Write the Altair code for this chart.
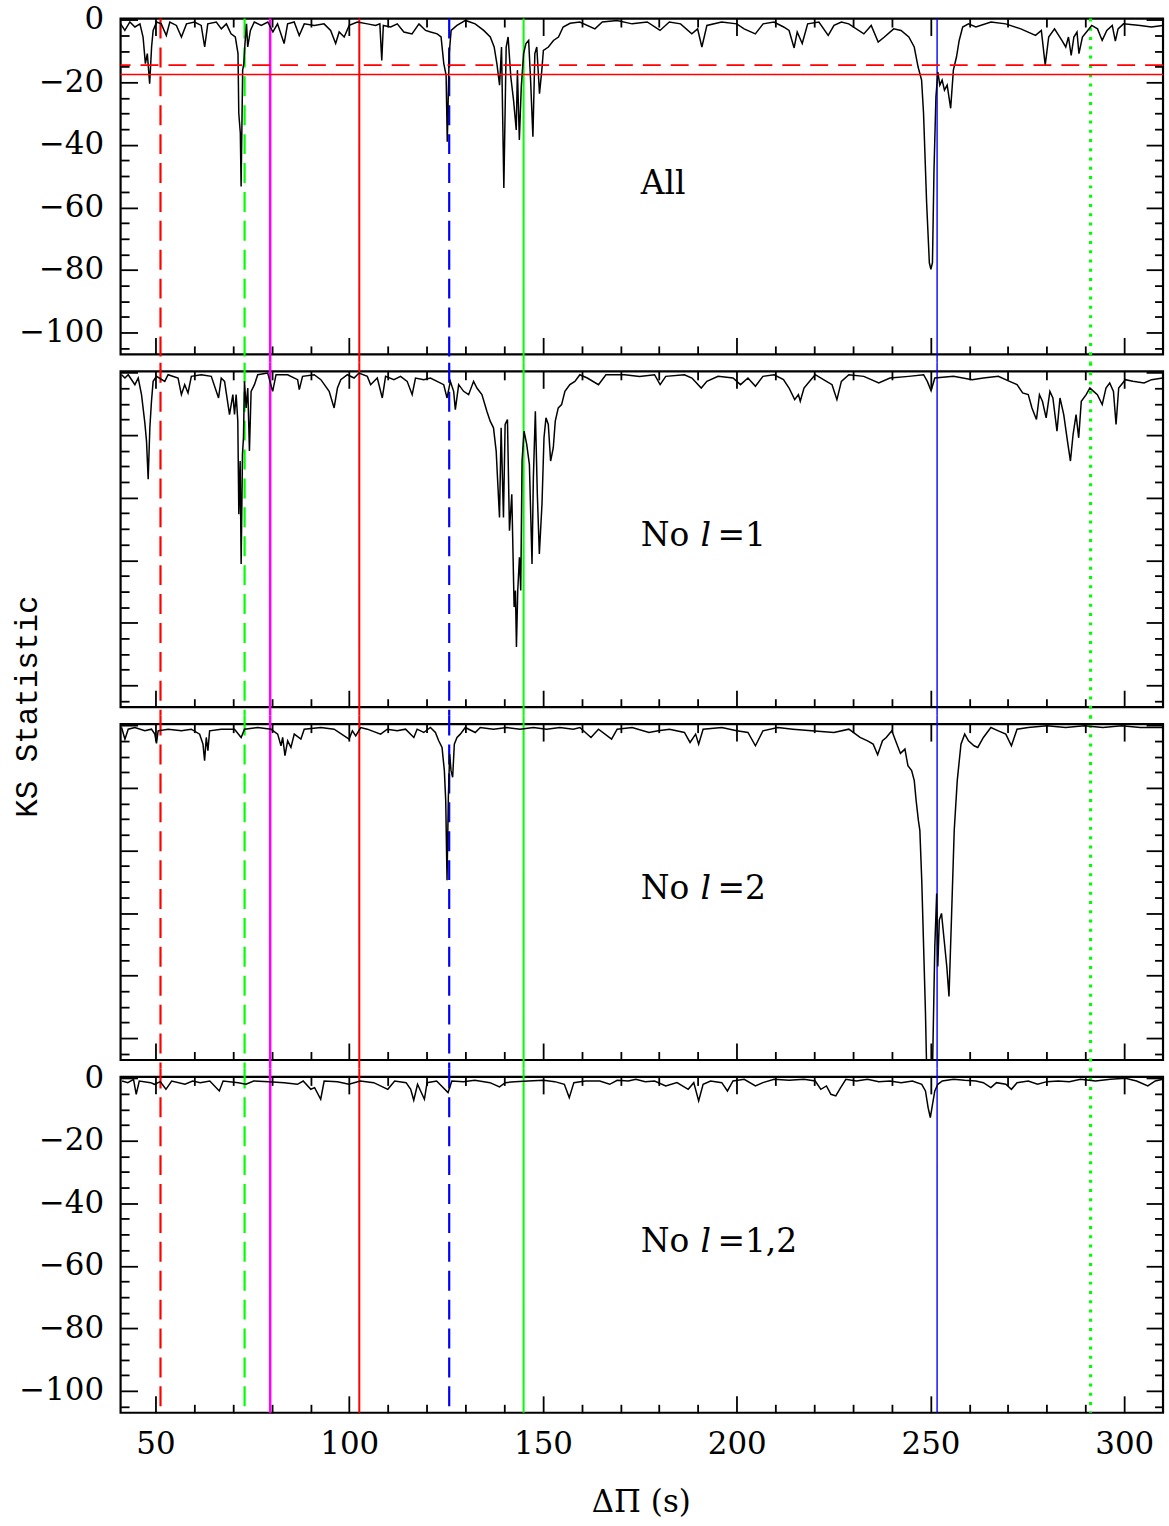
import altair as alt
import pandas as pd

# ---------------- data ----------------
X_DOMAIN = [41, 310]
Y_DOMAIN = [-107, 0.4]

X_MAJOR = [50, 100, 150, 200, 250, 300]
X_MINOR = [60, 70, 80, 90, 110, 120, 130, 140, 160, 170, 180, 190, 210, 220, 230, 240,
           260, 270, 280, 290]
Y_MAJOR = [0, -20, -40, -60, -80, -100]
Y_MINOR = [-5, -10, -15, -25, -30, -35, -45, -50, -55, -65, -70, -75, -85, -90, -95, -105]

# Panel 1: "All"
P1_X = [41.0, 42.1, 43.4, 44.7, 46.0, 46.8, 47.4, 47.9, 48.5, 49.0, 49.4, 50.3, 51.5, 52.8, 53.7,
        55.4, 56.7, 58.0, 60.1, 61.8, 62.7, 63.5, 65.7, 67.0, 68.3, 69.5, 70.6, 71.3, 71.5, 71.9,
        72.1, 72.5, 72.8, 73.1, 73.5, 73.8, 74.5, 75.5, 77.3, 79.0, 80.3, 81.5, 83.2, 84.1, 85.8,
        87.1, 88.4, 91.0, 93.5, 95.2, 96.5, 97.4, 98.7, 100.0, 102.1, 104.7, 106.8, 107.9, 108.4,
        108.8, 110.7, 112.4, 114.1, 116.2, 118.0, 119.7, 121.0, 122.7, 123.7, 124.4, 125.0, 125.3,
        125.8, 126.3, 127.8, 130.0, 132.5, 134.7, 136.4, 137.4, 138.1, 138.8, 139.3, 139.9, 140.5,
        141.0, 141.7, 142.4, 143.1, 143.4, 143.9, 144.4, 145.0, 145.6, 146.3, 146.8, 147.4, 147.9,
        148.4, 149.1, 149.7, 150.1, 151.4, 152.7, 154.0, 155.2, 157.0,
        159.5, 163.4, 165.3, 169.1, 173.0, 176.9, 180.2, 182.6, 185.5, 188.4, 189.9, 191.0, 192.3,
        196.1, 200.0, 201.9, 204.8, 206.8, 209.6, 212.1, 213.5, 214.8, 215.6, 216.9, 218.3, 221.2,
        223.6, 225.1, 227.0, 228.9, 232.8, 234.7, 236.5, 238.1, 240.5, 242.4, 244.4, 245.8, 246.8,
        247.7, 248.2, 249.0, 249.7, 250.1, 250.5, 250.9, 251.4, 251.9, 252.4, 253.0, 253.6, 254.3,
        255.2, 255.9, 256.7, 257.4, 258.3, 259.8, 261.7, 265.6, 269.4, 273.3, 277.1, 278.6, 279.6,
        280.5, 282.0, 283.9, 284.9, 285.6, 286.3, 287.0, 287.8, 288.3, 289.2, 291.6, 293.1, 294.3,
        295.5, 296.9, 297.7, 298.4, 299.8, 304.1, 307.0, 309.9]
P1_Y = [-1.3, -3.4, -0.7, -2.3, -1.3, -5.5, -14.0, -10.8, -20.4, -8.7, -3.4, -0.7, -1.3, -5.0, -0.7,
        -1.8, -5.5, -1.3, -0.7, -1.8, -8.7, -1.3, -0.7, -2.9, -1.3, -4.5, -5.5, -10.8, -29.9, -36.3,
        -53.3, -16.1, -14.0, -7.6, -1.3, -8.7, -3.4, -0.7, -1.8, -0.7, -3.9, -1.3, -7.6, -1.3, -0.7,
        -5.0, -1.3, -1.8, -1.3, -3.4, -7.6, -3.9, -5.5, -1.8, -0.7, -1.3, -1.8, -1.3, -13.0,
        -1.8, -2.3, -1.3, -3.9, -4.5, -1.3, -3.4, -3.9, -4.5, -5.5, -14.0, -17.7, -39.0,
        -10.8, -3.4, -1.8, -0.2, -1.3, -3.4, -5.5, -8.7, -14.0, -20.9, -8.7, -53.8, -8.7,
        -5.5, -18.3, -25.7, -35.2, -16.1, -38.4, -21.4, -10.8, -7.6, -6.6, -19.3, -37.4, -10.8,
        -8.7, -23.6, -16.1, -9.8, -8.7, -6.6, -5.5, -2.3, -1.1,
        -0.7, -2.9, -0.7, -0.2, -1.3, -0.7, -3.4, -0.7, -1.3, -4.5, -2.9, -8.7, -1.8,
        -0.7, -1.3, -2.9, -4.5, -1.3, -0.7, -2.3, -3.4, -9.0, -3.9, -7.6, -1.3, -0.7,
        -5.0, -1.8, -0.7, -1.3, -4.5, -1.8, -7.1, -5.5, -2.9, -3.4, -5.5, -8.7, -15.1,
        -19.3, -29.9, -58.6, -77.7, -79.8, -77.7, -48.0, -24.6, -16.7, -20.9, -19.3, -22.5, -20.9,
        -28.3, -16.1, -11.9, -6.6, -2.3, -1.3, -2.3, -0.7, -1.3, -2.9, -5.0, -3.4, -14.5,
        -5.5, -2.9, -6.6, -8.7, -5.5, -11.4, -5.5, -3.9, -10.8, -5.5, -1.8, -2.9, -6.6,
        -3.4, -1.8, -6.8, -2.9, -1.3, -1.8, -2.3, -1.8]

# Panel 2: "No l=1"
P2_X = [41.26, 42.12, 42.97, 44.69, 45.55, 46.40, 47.26, 47.69, 48.12, 48.55, 48.97, 49.40, 50.26,
        52.40, 53.26, 55.83, 56.69, 57.54, 58.40, 59.26, 61.83, 64.40, 66.28, 66.97, 67.83, 69.11,
        69.97, 70.40, 70.82, 71.25, 71.51, 71.85, 72.11, 72.45, 72.71, 72.97, 73.40, 73.82, 74.25,
        74.68, 75.54, 76.39, 78.96, 80.25, 81.11, 84.11, 86.68, 87.11, 87.96, 90.96, 92.68, 94.82,
        96.10, 96.96, 97.82, 99.53, 101.25, 102.53, 104.67, 105.53, 107.24, 108.53, 109.38, 111.53,
        113.24, 114.95, 116.24, 117.10, 119.24, 120.95, 122.67, 124.38, 125.24, 126.09, 126.95,
        127.38, 128.24, 129.52, 130.81, 132.09, 132.95, 134.24, 135.52, 136.38, 137.23, 137.92,
        138.26, 138.78, 139.20, 139.80, 140.23, 140.83, 141.35, 141.95, 142.55, 142.89, 143.15,
        143.49, 143.92, 144.26, 144.60, 145.12, 145.80, 146.49, 147.17, 147.52, 148.03, 148.54,
        149.06, 149.74, 150.26, 150.77, 151.37, 151.97, 152.66, 153.17, 153.94, 154.80, 155.66,
        156.94, 158.23, 159.51,
        161.43, 164.32, 166.25, 171.07, 174.93, 178.79, 180.23, 181.68, 186.50, 188.43, 190.84,
        192.29, 195.18, 199.04, 200.97, 202.89, 204.82, 206.75, 209.64, 212.06, 213.50, 214.95,
        215.91, 216.39, 217.36, 218.81, 220.25, 223.15, 224.59, 225.85, 227.00, 228.93, 232.79,
        236.65, 239.54, 244.36, 248.22, 249.18, 250.15, 251.11, 255.93, 260.75, 263.65, 267.50,
        270.40, 272.33, 273.77, 275.22, 276.18, 277.34, 278.11, 278.88, 279.84, 280.81, 281.58,
        282.64, 283.41, 284.38, 285.34, 286.11, 286.79, 287.56, 288.24, 288.91, 290.17, 291.13,
        292.09, 293.06, 294.31, 295.28, 296.24, 297.21, 297.88, 298.56, 300.29, 302.22, 305.11,
        307.04, 309.93]
P2_Y = [-0.68, -1.74, -0.68, -3.86, -1.74, -7.05, -16.07, -21.91, -34.1, -17.73, -9.17, -2.80, -1.21,
        -2.80, -0.68, -1.74, -7.05, -3.86, -6.52, -1.21, -0.68, -1.21, -8.11, -1.74, -2.80, -13.42,
        -7.05, -13.42, -7.05, -15.54, -45.26, -28.28, -61.19, -26.16, -20.85, -2.80, -11.30, -4.93,
        -25.09, -5.99, -3.86, -0.68, -0.15, -5.99, -0.68, -0.68, -2.27, -5.46, -1.21, -0.68, -2.27,
        -5.99, -11.30, -4.93, -2.27, -0.68, -1.74, -0.15, -1.21, -3.86, -1.74, -8.11, -1.21, -2.27,
        -1.21, -2.80, -7.05, -1.74, -2.27, -1.74, -2.80, -3.86, -8.11, -2.80, -5.99,
        -11.83, -3.86, -5.99, -7.05, -2.80, -4.93, -7.05, -12.36, -15.54, -17.66, -25.09,
        -33.59, -46.33, -17.66, -46.33, -16.60, -15.01, -50.58, -38.89, -74.99, -69.68, -87.73,
        -69.68, -59.06, -69.68, -28.28, -18.73, -22.97, -29.34, -61.19, -33.59, -12.36, -38.89,
        -58.0, -42.08, -20.85, -14.48, -16.60, -28.28, -24.03, -15.54, -11.30, -10.23, -5.99,
        -3.86, -2.80, -0.68,
        -1.74, -3.86, -0.68, -0.68, -1.21, -0.68, -3.86, -1.21, -0.68, -1.74, -4.93,
        -2.80, -1.21, -1.74, -3.86, -1.74, -4.39, -1.21, -0.68, -2.27, -4.93, -8.64,
        -7.05, -9.17, -4.93, -2.80, -0.68, -2.80, -3.86, -8.64, -2.80, -0.68, -1.21,
        -3.33, -1.74, -1.21, -0.68, -2.80, -5.78, -1.74, -1.21, -2.27, -1.74, -1.21,
        -2.80, -3.86, -6.52, -7.05, -11.30, -15.01, -7.05, -9.17, -14.48, -5.99, -8.11,
        -18.73, -8.11, -13.42, -21.91, -28.28, -19.79, -13.42, -20.85, -9.17, -7.05, -4.93,
        -5.99, -7.05, -10.23, -4.93, -3.33, -5.99, -16.60, -4.93, -2.27, -2.80, -3.33,
        -2.27, -1.74]

# Panel 3: "No l=2"
P3_X = [41.26, 42.12, 42.97, 44.69, 47.26, 48.97, 49.83, 50.26, 50.69, 53.26, 56.69, 59.26, 61.40,
        62.26, 62.68, 63.11, 63.54, 63.97, 66.97, 70.40, 72.11, 72.97, 76.39, 79.82, 81.54, 82.39,
        82.82, 83.42, 84.11, 84.96, 85.82, 87.53, 88.39, 92.68, 96.10, 99.96, 100.82, 101.67,
        102.96, 104.67, 108.10, 109.81, 112.38, 114.53, 116.67, 117.52, 119.24, 120.95, 122.24,
        123.09, 123.95, 124.55, 124.90, 125.24, 125.58, 125.92, 126.27, 126.69, 127.12, 127.81,
        128.66, 129.95, 132.52, 133.81, 137.23, 140.66, 144.09, 147.52, 150.94, 154.37, 157.80,
        159.51,
        162.39, 164.32, 167.70, 169.14, 173.00, 177.34, 179.75, 182.64, 186.50, 187.95, 189.39,
        190.17, 191.32, 196.14, 200.00, 202.89, 204.82, 206.75, 210.61, 214.47, 219.29, 225.07,
        228.93, 231.82, 233.75, 235.20, 236.36, 237.61, 238.58, 240.02, 240.99, 242.24, 243.40,
        244.17, 245.13, 245.81, 246.29, 246.87, 247.25, 247.74, 248.22, 248.70, 248.99, 250.53,
        251.11, 251.59, 251.88, 252.27, 252.84, 253.52, 254.20, 254.77, 255.45, 256.12, 256.90,
        257.86, 258.82, 259.79, 261.24, 262.20, 263.65, 265.58, 267.50, 269.43, 270.88, 272.33,
        275.22, 280.04, 284.86, 289.68, 294.50, 299.32, 304.15, 309.93]
P3_Y = [-0.68, -4.39, -1.21, -0.68, -1.74, -1.21, -2.80, -5.78, -1.74, -1.21, -1.74, -1.21, -2.80,
        -5.99, -11.30, -3.86, -8.11, -1.74, -1.21, -1.21, -3.86, -1.21, -0.68, -1.21, -2.80, -6.52,
        -3.86, -9.70, -4.93, -7.05, -2.80, -4.39, -1.21, -0.68, -1.21, -4.39, -1.74, -3.33,
        -0.68, -1.21, -2.80, -1.21, -1.74, -1.21, -3.86, -1.21, -2.27, -0.68, -2.27,
        -4.93, -7.05, -14.48, -24.03, -49.51, -22.97, -9.17, -14.48, -16.60, -5.99, -3.86,
        -2.80, -0.68, -2.27, -0.68, -1.21, -0.68, -1.21, -0.68, -1.21, -0.68, -1.21,
        -0.68,
        -3.86, -1.21, -4.39, -1.21, -0.68, -2.27, -1.74, -1.21, -2.27, -5.46, -2.80,
        -5.99, -1.21, -0.68, -1.74, -2.27, -6.52, -1.74, -0.68, -1.21, -1.74, -2.27,
        -1.21, -3.86, -4.93, -5.99, -9.38, -4.93, -3.86, -1.74, -4.93, -8.96, -7.58,
        -12.89, -14.48, -17.66, -24.03, -30.40, -33.59, -49.51, -70.74, -91.97, -109.0, -109.0,
        -70.74, -53.75, -77.12, -62.25, -60.13, -68.62, -77.12, -86.67, -60.13, -33.59, -17.66,
        -5.99, -2.80, -4.93, -6.52, -7.05, -3.86, -0.68, -1.74, -2.80, -6.52, -1.21,
        -0.68, -0.15, -0.68, -0.15, -0.68, -0.15, -0.68, -0.68]

# Panel 4: "No l=1,2"
P4_X = [41.39, 42.86, 44.34, 45.03, 45.82, 48.77, 49.75, 51.23, 52.70, 54.18, 57.62, 59.59, 61.56,
        64.02, 66.47, 67.46, 71.39, 73.36, 75.33, 79.26, 83.20, 86.64, 88.12, 90.09, 91.07, 92.64,
        93.53, 96.97, 99.92, 102.87, 106.32, 109.96, 111.73, 114.68, 115.86, 116.65, 117.63, 119.40,
        120.09, 122.55, 125.50, 126.48, 129.44, 132.39, 136.32, 138.78, 140.26, 142.72, 146.16,
        150.10, 153.05, 155.51, 156.78, 157.97, 160.92, 164.66,
        167.21, 169.14, 172.04, 173.96, 176.38, 178.79, 181.68, 184.57, 187.47, 188.91, 190.17,
        191.32, 193.25, 196.14, 197.59, 199.04, 201.93, 204.82, 206.75, 209.64, 213.50, 217.36,
        220.25, 221.70, 223.15, 224.30, 225.56, 226.81, 228.16, 230.86, 233.75, 236.65, 239.54,
        242.43, 245.32, 247.74, 248.70, 249.38, 249.95, 250.53, 251.11, 251.88, 253.04, 255.93,
        258.82, 261.72, 263.65, 265.58, 267.02, 269.43, 270.88, 272.33, 275.22, 277.63, 280.04,
        282.93, 285.83, 288.72, 292.58, 296.43, 300.29, 303.18, 306.08, 308.01, 309.93]
P4_Y = [-0.90, -1.43, -0.37, -5.15, -0.90, -1.43, -1.96, -1.11, -3.56, -0.90, -1.96, -0.90, -1.43,
        -0.90, -4.09, -0.90, -1.43, -1.96, -0.90, -1.11, -1.43, -1.96, -0.90, -3.56, -3.03, -6.74,
        -0.90, -1.11, -1.96, -0.90, -1.43, -3.56, -0.90, -1.43, -3.56, -7.06, -1.96, -6.74,
        -1.43, -0.90, -4.62, -0.90, -1.11, -0.69, -1.43, -2.81, -1.43, -1.11, -0.90,
        -0.69, -1.11, -1.96, -6.21, -1.43, -0.90, -0.90,
        -1.96, -0.69, -0.90, -0.37, -1.11, -0.90, -2.49, -1.43, -3.56, -1.43, -7.27,
        -1.96, -0.90, -1.43, -4.09, -0.90, -0.37, -2.49, -1.43, -0.37, -0.69, -0.37,
        -0.90, -3.56, -2.49, -5.15, -5.68, -3.03, -0.37, -0.90, -0.37, -1.11, -0.90,
        -1.43, -0.90, -1.96, -4.09, -9.40, -12.58, -8.33, -4.09, -1.96, -0.90, -0.37,
        -0.69, -0.90, -1.43, -3.03, -1.43, -1.96, -3.56, -1.43, -0.90, -1.96, -1.11,
        -0.90, -1.11, -0.37, -0.90, -0.37, 0.0, -0.90, -2.49, -0.90, -0.37]

PANELS_X = [P1_X, P2_X, P3_X, P4_X]
PANELS_Y = [P1_Y, P2_Y, P3_Y, P4_Y]

LABEL_PREFIX = ["All", "No", "No", "No"]
LABEL_ITALIC = ["", "l", "l", "l"]
LABEL_SUFFIX = ["", "=1", "=2", "=1,2"]
LABEL_X = 175.2
LABEL_Y = -55.6

# Vertical reference lines (period spacings), same in every panel
VLINE_X = [51.3, 73.0, 79.6, 102.6, 125.8, 145.0, 251.7, 291.3]
# Horizontal significance levels (top panel only)
HLINE_Y = [-14.5, -17.5]

# ---------------- styling ----------------
W, H, GAP = 1046, 337, 17
SERIF = "DejaVu Serif"
FS = 31
VSTYLE = [  # color, dash, width
    ("#ff0000", [20, 9], 2.2),
    ("#00ff00", [20, 9], 2.2),
    ("#ff00ff", [1, 0], 2.5),
    ("#ff0000", [1, 0], 2.0),
    ("#0000ff", [20, 9], 2.2),
    ("#00ff00", [1, 0], 2.0),
    ("#0000ff", [1, 0], 1.4),
    ("#00ff00", [3, 6.3], 3.2),
]
HSTYLE = [("#ff0000", [18, 10], 1.6), ("#ff0000", [1, 0], 1.6)]


def xs():
    return alt.Scale(domain=X_DOMAIN, nice=False, zero=False)


def ys():
    return alt.Scale(domain=Y_DOMAIN, nice=False, zero=False)


def tick_axis(orient, values, size):
    return alt.Axis(orient=orient, values=values, labels=False, ticks=True, tickSize=size,
                    tickWidth=1.8, tickColor="black", domain=False, grid=False,
                    offset=-size, title=None)


def panel(i):
    df = pd.DataFrame({"x": PANELS_X[i], "y": PANELS_Y[i]})
    first, last = i == 0, i == 3
    layers = []

    # label axes
    xl = dict(orient="bottom", values=X_MAJOR, labels=last, ticks=False, domain=False,
              grid=False, labelFont=SERIF, labelFontSize=FS, labelColor="black",
              labelPadding=17, title=None)
    if last:
        xl.update(title="ΔΠ (s)", titleFont=SERIF, titleFontSize=FS, titleFontWeight="normal",
                  titleColor="black", titleX=522, titleY=90, titleBaseline="middle",
                  titleAlign="center")
    yl = dict(orient="left", values=Y_MAJOR, labels=(first or last), ticks=False, domain=False,
              grid=False, labelFont=SERIF, labelFontSize=FS, labelColor="black",
              labelPadding=17, title=None)
    if i == 1:
        yl.update(title="KS Statistic", titleFont="Liberation Mono", titleFontSize=31,
                  titleFontWeight="normal", titleColor="black", titleAngle=270,
                  titleX=-93.5, titleY=336, titleAlign="center", titleBaseline="middle")

    axis_pairs = [
        (alt.Axis(**xl), alt.Axis(**yl)),
        (tick_axis("bottom", X_MAJOR, 17), tick_axis("left", Y_MAJOR, 17)),
        (tick_axis("bottom", X_MINOR, 8.5), tick_axis("left", Y_MINOR, 8.5)),
        (tick_axis("top", X_MAJOR, 17), tick_axis("right", Y_MAJOR, 17)),
        (tick_axis("top", X_MINOR, 8.5), tick_axis("right", Y_MINOR, 8.5)),
    ]
    for ax, ay in axis_pairs:
        layers.append(
            alt.Chart(df).mark_line(strokeOpacity=0).encode(
                x=alt.X("x:Q", scale=xs(), axis=ax),
                y=alt.Y("y:Q", scale=ys(), axis=ay),
            )
        )

    # vertical lines spanning through the gaps between panels
    top = 0 if first else -GAP / 2
    bot = H if last else H + GAP / 2
    for vx, (col, dash, sw) in zip(VLINE_X, VSTYLE):
        layers.append(
            alt.Chart(pd.DataFrame({"x": [vx]})).mark_rule(
                color=col, strokeDash=dash, strokeWidth=sw
            ).encode(
                x=alt.X("x:Q", scale=xs(), axis=None),
                y=alt.value(top), y2=alt.value(bot),
            )
        )

    # the KS curve
    layers.append(
        alt.Chart(df).mark_line(color="black", strokeWidth=1.5, clip=True).encode(
            x=alt.X("x:Q", scale=xs(), axis=None),
            y=alt.Y("y:Q", scale=ys(), axis=None),
        )
    )

    if first:
        for hy, (col, dash, sw) in zip(HLINE_Y, HSTYLE):
            layers.append(
                alt.Chart(pd.DataFrame({"y": [hy]})).mark_rule(
                    color=col, strokeDash=dash, strokeWidth=sw
                ).encode(y=alt.Y("y:Q", scale=ys(), axis=None))
            )

    # panel label
    lab = pd.DataFrame({"x": [LABEL_X], "y": [LABEL_Y]})
    parts = [(LABEL_PREFIX[i], "normal", 0)]
    if LABEL_ITALIC[i]:
        parts.append((LABEL_ITALIC[i], "italic", 60))
        parts.append((LABEL_SUFFIX[i], "normal", 77))
    for txt, style, dx in parts:
        layers.append(
            alt.Chart(lab).mark_text(
                text=txt, font=SERIF, fontSize=33, fontStyle=style, align="left",
                baseline="alphabetic", dx=dx, color="black"
            ).encode(
                x=alt.X("x:Q", scale=xs(), axis=None),
                y=alt.Y("y:Q", scale=ys(), axis=None),
            )
        )

    return alt.layer(*layers).resolve_scale(x="independent", y="independent").properties(
        width=W, height=H
    )


chart = alt.vconcat(*[panel(i) for i in range(4)], spacing=GAP, bounds="flush").properties(
    padding={"left": 10, "top": 0, "right": 4, "bottom": 4},
    background="white",
).configure_view(stroke="black", strokeWidth=2.2)

chart.save("out.html", embed_options={"renderer": "svg", "actions": False})
